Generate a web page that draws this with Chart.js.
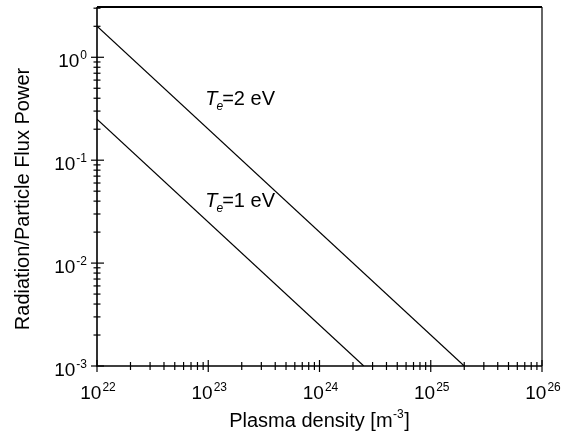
<!DOCTYPE html>
<html><head><meta charset="utf-8">
<script src="https://cdn.jsdelivr.net/npm/chart.js@4"></script>
<style>html,body{margin:0;padding:0;background:#fff}#wrap{width:565px;height:445px}</style>
</head><body><div id="wrap"><canvas id="c" width="565" height="445"></canvas></div>
<script>
// ---- data ----
const te1Density = [1e22, 2.5e24];
const te1Ratio   = [0.25, 1e-3];
const te2Density = [1e22, 2e25];
const te2Ratio   = [2, 1e-3];
const xTickExponents = [22, 23, 24, 25, 26];
const yTickExponents = [-3, -2, -1, 0];
const minorMultipliers = [2, 3, 4, 5, 6, 7, 8, 9];
const xTitleParts = ['Plasma density [m', '-3', ']'];
const yTitle = 'Radiation/Particle Flux Power';
const seriesNames = [['T', 'e', '=1 eV'], ['T', 'e', '=2 eV']];
const labelAnchors = [{x: 9.4e22, y: 0.035}, {x: 9.4e22, y: 0.342}];

const FONT = '"Liberation Sans", Arial, Helvetica, sans-serif';

function pts(xs, ys) { return xs.map((x, i) => ({x: x, y: ys[i]})); }

function drawPow(ctx, exp, x, y, align) {
  ctx.font = '19px ' + FONT;
  const wb = ctx.measureText('10').width;
  ctx.font = '12px ' + FONT;
  const we = ctx.measureText(String(exp)).width;
  const total = wb + 1 + we;
  let x0 = align === 'center' ? x - total / 2 : x - total;
  ctx.textAlign = 'left';
  ctx.textBaseline = 'alphabetic';
  ctx.font = '19px ' + FONT;
  ctx.fillText('10', x0, y);
  ctx.font = '12px ' + FONT;
  ctx.fillText(String(exp), x0 + wb + 1, y - 8);
}

const deco = {
  id: 'deco',
  afterDatasetsDraw(chart) {
    const ctx = chart.ctx, xs = chart.scales.x, ys = chart.scales.y, a = chart.chartArea;
    ctx.save();
    // frame
    ctx.strokeStyle = '#666'; ctx.lineWidth = 2;
    ctx.beginPath(); ctx.moveTo(a.right, a.top); ctx.lineTo(a.right, a.bottom); ctx.stroke();
    ctx.strokeStyle = '#000'; ctx.lineWidth = 2;
    ctx.beginPath(); ctx.moveTo(a.left, a.top); ctx.lineTo(a.right, a.top); ctx.stroke();
    ctx.lineWidth = 1.6;
    ctx.beginPath(); ctx.moveTo(a.left, a.top); ctx.lineTo(a.left, a.bottom); ctx.lineTo(a.right, a.bottom); ctx.stroke();

    ctx.lineWidth = 1.2;
    ctx.strokeStyle = '#000';
    // x ticks
    xTickExponents.forEach((e, i) => {
      const major = xs.getPixelForValue(Math.pow(10, e));
      ctx.beginPath(); ctx.moveTo(major, a.bottom - 6); ctx.lineTo(major, a.bottom + 6); ctx.stroke();
      if (i < xTickExponents.length - 1) {
        minorMultipliers.forEach(m => {
          const p = xs.getPixelForValue(m * Math.pow(10, e));
          ctx.beginPath(); ctx.moveTo(p, a.bottom - 4); ctx.lineTo(p, a.bottom + 4); ctx.stroke();
        });
      }
    });
    // y ticks
    yTickExponents.forEach(e => {
      const major = ys.getPixelForValue(Math.pow(10, e));
      ctx.beginPath(); ctx.moveTo(a.left - 6, major); ctx.lineTo(a.left + 7, major); ctx.stroke();
      minorMultipliers.forEach(m => {
        const v = m * Math.pow(10, e);
        if (v <= ys.max) {
          const p = ys.getPixelForValue(v);
          ctx.beginPath(); ctx.moveTo(a.left - 3.5, p); ctx.lineTo(a.left + 3.5, p); ctx.stroke();
        }
      });
    });

    ctx.fillStyle = '#000';
    // tick labels
    xTickExponents.forEach(e => {
      drawPow(ctx, e, xs.getPixelForValue(Math.pow(10, e)) + 1, a.bottom + 33, 'center');
    });
    yTickExponents.forEach(e => {
      drawPow(ctx, e, a.left - 10, ys.getPixelForValue(Math.pow(10, e)) + 9.5, 'right');
    });

    // x title
    ctx.textBaseline = 'alphabetic'; ctx.textAlign = 'left';
    ctx.font = '20px ' + FONT;
    const w1 = ctx.measureText(xTitleParts[0]).width;
    const w3 = ctx.measureText(xTitleParts[2]).width;
    ctx.font = '12px ' + FONT;
    const w2 = ctx.measureText(xTitleParts[1]).width;
    const tw = w1 + w2 + w3 + 1;
    let tx = (a.left + a.right) / 2 - tw / 2 + 0;
    const ty = 427;
    ctx.font = '20px ' + FONT; ctx.fillText(xTitleParts[0], tx, ty);
    ctx.font = '12px ' + FONT; ctx.fillText(xTitleParts[1], tx + w1 + 0.5, ty - 9);
    ctx.font = '20px ' + FONT; ctx.fillText(xTitleParts[2], tx + w1 + w2 + 1, ty);

    // y title
    ctx.save();
    ctx.translate(29, 199);
    ctx.rotate(-Math.PI / 2);
    ctx.textAlign = 'center'; ctx.textBaseline = 'alphabetic';
    ctx.font = '20px ' + FONT;
    ctx.fillText(yTitle, 0, 0);
    ctx.restore();

    // series labels
    seriesNames.forEach((parts, i) => {
      const px = xs.getPixelForValue(labelAnchors[i].x);
      const py = ys.getPixelForValue(labelAnchors[i].y);
      ctx.textAlign = 'left';
      ctx.font = 'italic 20px ' + FONT;
      ctx.fillText(parts[0], px, py);
      const wT = ctx.measureText(parts[0]).width;
      ctx.font = 'italic 12px ' + FONT;
      ctx.fillText(parts[1], px + wT - 1, py + 5);
      const wE = ctx.measureText(parts[1]).width;
      ctx.font = '20px ' + FONT;
      ctx.fillText(parts[2], px + wT - 1 + wE - 1, py);
    });
    ctx.restore();
  }
};

new Chart(document.getElementById('c'), {
  type: 'scatter',
  data: {
    datasets: [
      {data: pts(te1Density, te1Ratio), showLine: true, borderColor: '#000', borderWidth: 1.2, pointRadius: 0, fill: false},
      {data: pts(te2Density, te2Ratio), showLine: true, borderColor: '#000', borderWidth: 1.2, pointRadius: 0, fill: false}
    ]
  },
  options: {
    responsive: false,
    animation: false,
    layout: {padding: {left: 97, right: 23, top: 7, bottom: 79}},
    plugins: {legend: {display: false}, tooltip: {enabled: false}},
    scales: {
      x: {type: 'logarithmic', display: false, min: 1e22, max: 1e26},
      y: {type: 'logarithmic', display: false, min: 1e-3, max: 3.08}
    }
  },
  plugins: [deco]
});
</script>
</body></html>
